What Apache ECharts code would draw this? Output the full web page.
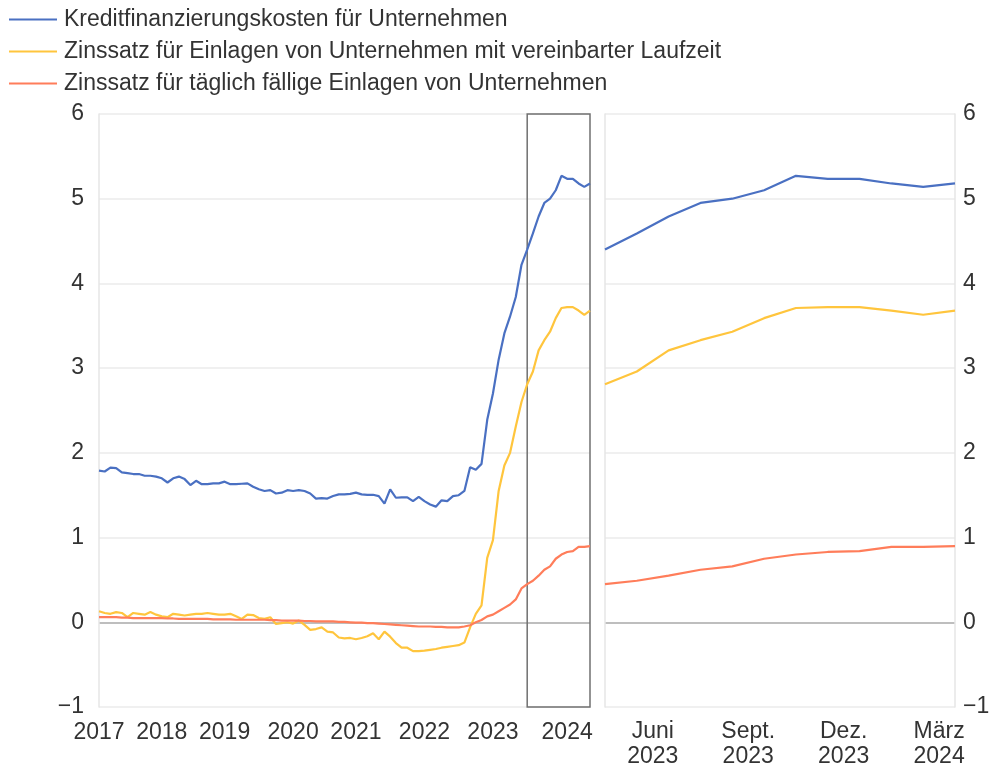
<!DOCTYPE html>
<html><head><meta charset="utf-8">
<script src="https://cdn.jsdelivr.net/npm/echarts@6/dist/echarts.min.js"></script>
<style>html,body{margin:0;padding:0;background:#fff}#c{width:993px;height:765px}</style>
</head><body><div id="c"></div>
<script>
// Monthly categories Jan 2017 .. Mar 2024
const months = [];
for (let y = 2017; y <= 2024; y++) for (let m = 1; m <= 12; m++) { if (y === 2024 && m > 3) break; months.push(y + '-' + String(m).padStart(2, '0')); }

const seriesNames = [
  'Kreditfinanzierungskosten für Unternehmen',
  'Zinssatz für Einlagen von Unternehmen mit vereinbarter Laufzeit',
  'Zinssatz für täglich fällige Einlagen von Unternehmen'
];

const kredit = [
  1.79,1.78,1.825,1.82,1.77,1.76,1.75,1.75,1.73,1.73,1.72,1.70,1.65,1.70,1.72,1.69,1.62,1.67,1.63,1.63,1.64,1.64,1.66,1.63,1.63,1.635,1.64,1.60,1.57,1.55,
  1.56,1.52,1.53,1.56,1.55,1.56,1.55,1.52,1.46,1.465,1.46,1.49,1.51,1.51,1.515,1.53,1.51,1.505,1.505,1.49,1.40,1.57,1.47,1.475,1.475,1.43,1.48,1.43,1.39,
  1.365,1.44,1.43,1.49,1.50,1.55,1.83,1.80,1.87,2.39,2.70,3.10,3.41,3.61,3.84,4.22,
  4.40,4.59,4.79,4.95,5.00,5.10,5.27,5.235,5.235,5.18,5.14,5.18
];
const laufzeit = [
  0.13,0.11,0.10,0.12,0.11,0.06,0.11,0.10,0.09,0.12,0.09,0.07,0.06,0.10,0.09,0.08,0.09,0.10,0.10,0.11,0.10,0.09,0.09,0.10,0.07,0.04,0.09,0.085,0.05,0.04,
  0.06,-0.02,-0.01,0.00,-0.015,0.02,-0.03,-0.09,-0.08,-0.06,-0.11,-0.12,-0.18,-0.19,-0.185,-0.20,-0.185,-0.165,-0.13,-0.20,-0.11,-0.17,-0.245,-0.30,-0.30,-0.34,-0.34,-0.335,-0.325,
  -0.315,-0.30,-0.29,-0.28,-0.27,-0.24,-0.06,0.10,0.20,0.76,0.97,1.55,1.85,2.00,2.31,2.60,
  2.81,2.96,3.21,3.33,3.43,3.59,3.71,3.72,3.72,3.68,3.63,3.68
];
const taeglich = [
  0.06,0.06,0.06,0.06,0.055,0.055,0.05,0.05,0.05,0.05,0.05,0.05,0.045,0.045,0.04,0.04,0.04,0.04,0.04,0.04,0.035,0.035,0.035,0.035,0.03,0.03,0.03,0.03,0.03,0.03,
  0.025,0.025,0.02,0.02,0.02,0.02,0.015,0.015,0.01,0.01,0.01,0.01,0.005,0.005,0.0,-0.005,-0.005,-0.01,-0.01,-0.015,-0.02,-0.025,-0.03,-0.035,-0.04,-0.045,-0.05,-0.05,-0.05,
  -0.055,-0.055,-0.06,-0.06,-0.06,-0.05,-0.035,0.0,0.027,0.07,0.09,0.13,0.17,0.21,0.27,0.40,
  0.45,0.49,0.55,0.62,0.66,0.75,0.80,0.83,0.84,0.89,0.89,0.90
];

// Tick labels
const yearLabels = ['2017','2018','2019','2020','2021','2022','2023','2024'];
const yearLabelMonths = [0,11,22,34,45,57,69,82];
const zoomStart = 75; // Apr 2023
const zoomLabels = ['Juni\n2023','Sept.\n2023','Dez.\n2023','März\n2024'];
const zoomLabelBands = [1,4,7,10];

const colors = ['#4a70c2','#ffc53d','#ff7d5a'];
const FONT = 'Liberation Sans, Arial, sans-serif';
const FS = 23;

const zMonths = months.slice(zoomStart);
const zBands = zMonths.slice(1);

const chart = echarts.init(document.getElementById('c'), null, {renderer: 'canvas'});
const grid0 = {left: 99, top: 114, width: 491, height: 593, containLabel: false, outerBoundsMode: 'none'};
const grid1 = {left: 605, top: 114, width: 350, height: 593, containLabel: false, outerBoundsMode: 'none'};
const splitColors = ['#ebebeb','#a8a8a8','#ebebeb','#ebebeb','#ebebeb','#ebebeb','#ebebeb','#ebebeb'];
const fmtY = v => String(v).replace('-', '\u2212');

function yAx(gi, pos, labels) {
  return {
    type: 'value', gridIndex: gi, position: pos, min: -1, max: 6, interval: 1,
    axisLine: {show: true, lineStyle: {color: '#e6e6e6', width: 1.5}},
    axisTick: {show: false},
    axisLabel: {show: labels, formatter: fmtY, color: '#333', fontSize: FS, fontFamily: FONT, margin: pos === 'left' ? 15 : 8},
    splitLine: {show: labels, lineStyle: {color: splitColors, width: 1.5}}
  };
}

const option = {
  backgroundColor: '#fff',
  animation: false,
  color: colors,
  legend: {
    orient: 'vertical', left: 4, top: 3,
    data: seriesNames,
    icon: 'rect', itemWidth: 48, itemHeight: 2, itemGap: 9,
    textStyle: {fontSize: FS, fontFamily: FONT, color: '#333', lineHeight: 23, padding: [0,0,0,2]}
  },
  grid: [grid0, grid1],
  xAxis: [
    {
      type: 'category', gridIndex: 0, data: months, boundaryGap: false,
      axisLine: {show: false}, axisTick: {show: false}, splitLine: {show: false},
      axisLabel: {
        color: '#333', fontSize: FS, fontFamily: FONT, margin: 14,
        interval: i => yearLabelMonths.indexOf(i) >= 0,
        formatter: (v, i) => { const k = yearLabelMonths.indexOf(i); return k >= 0 ? yearLabels[k] : ''; }
      }
    },
    {
      type: 'category', gridIndex: 1, data: zMonths, boundaryGap: false,
      axisLine: {show: false}, axisTick: {show: false}, splitLine: {show: false}, axisLabel: {show: false}
    },
    {
      type: 'category', gridIndex: 1, data: zBands, boundaryGap: true, position: 'bottom',
      axisLine: {show: false}, axisTick: {show: false}, splitLine: {show: false},
      axisLabel: {
        color: '#333', fontSize: FS, fontFamily: FONT, margin: 12, lineHeight: 25,
        interval: i => zoomLabelBands.indexOf(i) >= 0,
        formatter: (v, i) => { const k = zoomLabelBands.indexOf(i); return k >= 0 ? zoomLabels[k] : ''; }
      }
    }
  ],
  yAxis: [
    yAx(0, 'left', true),
    yAx(1, 'right', true),
    yAx(1, 'left', false)
  ],
  series: [
    {name: seriesNames[0], type: 'line', xAxisIndex: 0, yAxisIndex: 0, data: kredit, showSymbol: false, lineStyle: {width: 2.2}, z: 3,
     markArea: {silent: true, itemStyle: {color: 'rgba(0,0,0,0)', borderColor: '#707070', borderWidth: 1.5},
       data: [[{xAxis: months[zoomStart]}, {xAxis: months[months.length - 1]}]]}},
    {name: seriesNames[1], type: 'line', xAxisIndex: 0, yAxisIndex: 0, data: laufzeit, showSymbol: false, lineStyle: {width: 2.2}, z: 2},
    {name: seriesNames[2], type: 'line', xAxisIndex: 0, yAxisIndex: 0, data: taeglich, showSymbol: false, lineStyle: {width: 2.2}, z: 2},
    {name: seriesNames[0], type: 'line', xAxisIndex: 1, yAxisIndex: 1, data: kredit.slice(zoomStart), showSymbol: false, lineStyle: {width: 2.2}},
    {name: seriesNames[1], type: 'line', xAxisIndex: 1, yAxisIndex: 1, data: laufzeit.slice(zoomStart), showSymbol: false, lineStyle: {width: 2.2}},
    {name: seriesNames[2], type: 'line', xAxisIndex: 1, yAxisIndex: 1, data: taeglich.slice(zoomStart), showSymbol: false, lineStyle: {width: 2.2}}
  ]
};
chart.setOption(option);
</script></body></html>
